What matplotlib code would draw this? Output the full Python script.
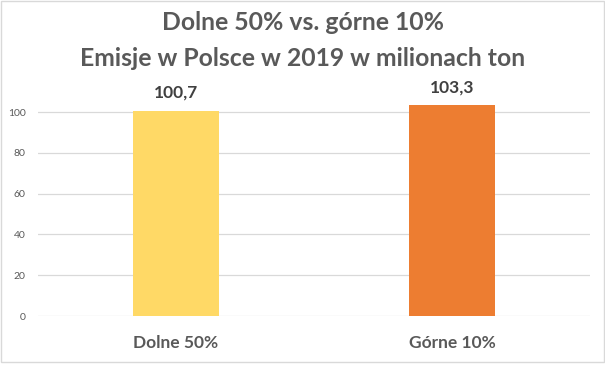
import matplotlib
matplotlib.use("Agg")
import matplotlib.pyplot as plt
from matplotlib.patches import Rectangle

categories = ["Dolne 50%", "Górne 10%"]
values = [100.7, 103.3]
value_labels = ["100,7", "103,3"]
colors = ["#FFD966", "#ED7D31"]
yticks = [0, 20, 40, 60, 80, 100]
title_lines = ["Dolne 50% vs. górne 10%", "Emisje w Polsce w 2019 w milionach ton"]

plt.rcParams['font.family'] = ['Lato', 'DejaVu Sans']
W, H = 605, 377
fig = plt.figure(figsize=(W/100, H/100), dpi=100)
fig.patch.set_facecolor("white")

# outer chart border
fig.add_artist(Rectangle((0.5/W, 1 - 361.5/H), (603.5)/W, (361)/H,
                         transform=fig.transFigure, fill=False,
                         edgecolor="#D9D9D9", linewidth=1.0))

left, right = 38/W, 590/W
bottom = 1 - 316/H
ymax = 110
top = 1 - (316 - 2.04*ymax)/H
ax = fig.add_axes([left, bottom, right-left, top-bottom])

x = range(len(categories))
bars = ax.bar(x, values, width=0.315, color=colors, zorder=3)
ax.set_xlim(-0.5, len(categories)-0.5)
ax.set_ylim(0, ymax)
ax.set_yticks(yticks)
ax.set_yticklabels([str(t) for t in yticks])
ax.grid(axis="y", color="#D9D9D9", linewidth=0.9, zorder=0)
for s in ax.spines.values():
    s.set_visible(False)
ax.tick_params(axis="y", length=0, pad=9, labelsize=7.5, labelcolor="#595959")
ax.tick_params(axis="x", length=0, pad=14, labelsize=12.5, labelcolor="#595959")
ax.set_xticks(list(x))
ax.set_xticklabels(categories, fontweight="bold")

for xi, v, lab in zip(x, values, value_labels):
    ax.annotate(lab, (xi, v), xytext=(0, 7), textcoords="offset points",
                ha="center", va="bottom", fontsize=12.5, fontweight="bold",
                color="#404040")

for yc, line in zip([22, 58], title_lines):
    fig.text(0.5, 1 - yc/H, line, ha="center", va="center", fontsize=17.8,
             fontweight="bold", color="#595959")

fig.savefig("out.png", dpi=100, facecolor="white")
